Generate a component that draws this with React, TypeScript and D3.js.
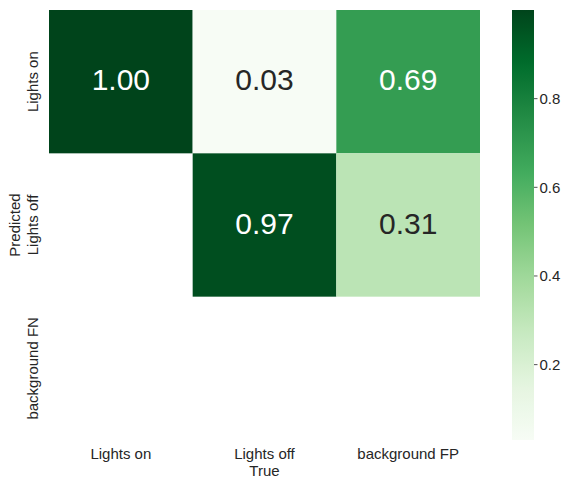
import React from "react";
import * as d3 from "d3";

// Confusion matrix (normalised by true class); null = empty cell
const trueLabels = ["Lights on", "Lights off", "background FP"];
const predLabels = ["Lights on", "Lights off", "background FN"];
const matrix: (number | null)[][] = [
  [1.0, 0.03, 0.69],
  [null, 0.97, 0.31],
  [null, null, null],
];
const colorbarTicks = [0.2, 0.4, 0.6, 0.8];
const vmin = 0.03;
const vmax = 1.0;

// matplotlib "Greens" colour stops
const greens = [
  "#f7fcf5", "#e5f5e0", "#c7e9c0", "#a1d99b", "#74c476",
  "#41ab5d", "#238b45", "#006d2c", "#00441b",
];

const W = 564;
const H = 479;
const left = 49;
const right = 480;
const top = 10;
const bottom = 440;
const cbX = 512;
const cbW = 22;
const textColor = "#262626";
const font = "'Liberation Sans', Arial, sans-serif";

export default function App() {
  const x = d3.scaleBand<number>().domain(d3.range(trueLabels.length)).range([left, right]);
  const y = d3.scaleBand<number>().domain(d3.range(predLabels.length)).range([top, bottom]);
  const norm = d3.scaleLinear().domain([vmin, vmax]).range([0, 1]).clamp(true);
  const ramp = d3
    .scaleLinear<string>()
    .domain(greens.map((_, i) => i / (greens.length - 1)))
    .range(greens)
    .interpolate(d3.interpolateRgb);
  const color = (v: number) => ramp(norm(v));
  const cbY = d3.scaleLinear().domain([vmin, vmax]).range([bottom, top]);

  const lum = (c: string) => {
    const rgb = d3.rgb(c);
    const f = (u: number) => {
      const s = u / 255;
      return s <= 0.03928 ? s / 12.92 : Math.pow((s + 0.055) / 1.055, 2.4);
    };
    return 0.2126 * f(rgb.r) + 0.7152 * f(rgb.g) + 0.0722 * f(rgb.b);
  };

  const gradStops = d3.range(0, 1.0001, 0.02);

  return (
    <svg
      width={W}
      height={H}
      style={{ position: "absolute", left: 0, top: 0, background: "#fff" }}
      fontFamily={font}
    >
      <defs>
        <linearGradient id="cbar" x1="0" y1="1" x2="0" y2="0">
          {gradStops.map((t) => (
            <stop key={t} offset={t} stopColor={ramp(t)} />
          ))}
        </linearGradient>
      </defs>

      {matrix.map((row, i) =>
        row.map((v, j) => {
          if (v === null) return null;
          const c = color(v);
          const cx = (x(j) as number) + x.bandwidth() / 2;
          const cy = (y(i) as number) + y.bandwidth() / 2;
          return (
            <g key={`${i}-${j}`}>
              <rect
                x={x(j)}
                y={y(i)}
                width={x.bandwidth()}
                height={y.bandwidth()}
                fill={c}
              />
              <text
                x={cx}
                y={cy + 8.5}
                textAnchor="middle"
                fontSize={30}
                fill={lum(c) > 0.408 ? textColor : "#ffffff"}
              >
                {v.toFixed(2)}
              </text>
            </g>
          );
        })
      )}

      {trueLabels.map((l, j) => (
        <text
          key={l}
          x={(x(j) as number) + x.bandwidth() / 2}
          y={459}
          textAnchor="middle"
          fontSize={15}
          fill={textColor}
        >
          {l}
        </text>
      ))}
      <text x={(left + right) / 2} y={476} textAnchor="middle" fontSize={15} fill={textColor}>
        True
      </text>

      {predLabels.map((l, i) => {
        const cy = (y(i) as number) + y.bandwidth() / 2;
        return (
          <text
            key={l}
            transform={`translate(38,${cy}) rotate(-90)`}
            textAnchor="middle"
            fontSize={15}
            fill={textColor}
          >
            {l}
          </text>
        );
      })}
      <text
        transform={`translate(20,${(top + bottom) / 2}) rotate(-90)`}
        textAnchor="middle"
        fontSize={15}
        fill={textColor}
      >
        Predicted
      </text>

      <rect x={cbX} y={top} width={cbW} height={bottom - top} fill="url(#cbar)" />
      {colorbarTicks.map((t) => (
        <g key={t} transform={`translate(${cbX + cbW},${cbY(t)})`}>
          <line x1={0} x2={3.5} stroke={textColor} strokeWidth={0.8} />
          <text x={5.5} dy="0.35em" fontSize={15} fill={textColor}>
            {t.toFixed(1)}
          </text>
        </g>
      ))}
    </svg>
  );
}
